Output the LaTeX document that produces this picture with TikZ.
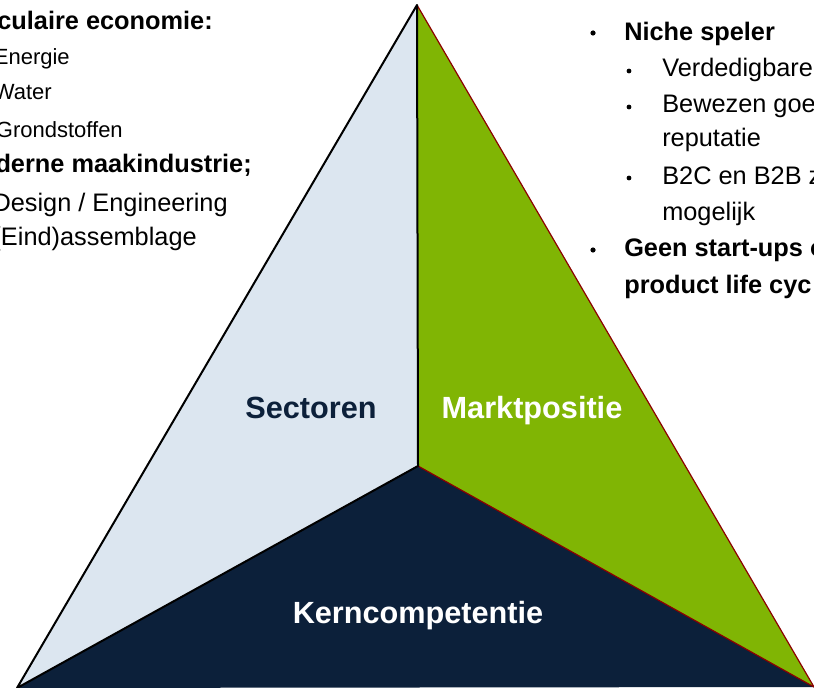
\documentclass[tikz,border=0pt]{standalone}
\usepackage{fontspec}
\setmainfont{Liberation Sans}
\begin{document}
\begin{tikzpicture}[x=0.75pt,y=-0.75pt]
    % Define colors
    \definecolor{sectorcolor}{RGB}{220,230,240} % light blue grey
    \definecolor{marktcolor}{RGB}{128,181,4}    % green
    \definecolor{kerncolor}{RGB}{12,32,58}      % dark navy
    \definecolor{edgered}{RGB}{140,0,0}         % dark red

    % Define styles
    \tikzset{
        bodytext/.style={inner sep=0pt, font=\fontsize{19}{23}\selectfont},
        smalltext/.style={inner sep=0pt, font=\fontsize{16.5}{20}\selectfont},
        bodybold/.style={inner sep=0pt, font=\fontsize{19}{23}\selectfont\bfseries},
        facetext/.style={inner sep=0pt, anchor=base, font=\fontsize{23}{27}\selectfont\bfseries}
    }

    \useasboundingbox (0,0) rectangle (814,688);

    % Corners of the triangle
    \coordinate (top) at (417,5);
    \coordinate (mid) at (418,466);
    \coordinate (bl) at (17,688);
    \coordinate (br) at (814,687);

    % Draw faces
    \fill[sectorcolor] (top) -- (bl) -- (mid) -- cycle;
    \fill[marktcolor] (top) -- (mid) -- (br) -- cycle;
    \fill[kerncolor] (bl) -- (mid) -- (br) -- cycle;

    % Draw edges
    \draw[edgered, line width=0.9pt] (top) -- (br) -- (mid);
    \draw[line width=1.5pt, line join=round] (bl) -- (top) -- (mid) -- cycle;

    % Face labels
    \node[facetext, text=kerncolor] (sectoren) at (311,418) {Sectoren};
    \node[facetext, text=white] (markt) at (532,418) {Marktpositie};
    \node[facetext, text=white] (kern) at (418,623) {Kerncompetentie};

    % Left list (cut off at the page edge)
    \node[bodybold, anchor=base east] (circ) at (213,30) {Circulaire economie:};
    \node[smalltext, anchor=base east] (energie) at (70,65) {Energie};
    \node[smalltext, anchor=base east] (water) at (52,100) {Water};
    \node[smalltext, anchor=base east] (grond) at (123,138) {Grondstoffen};
    \node[bodybold, anchor=base east] (maak) at (252,173) {Moderne maakindustrie;};
    \node[bodytext, anchor=base east] (design) at (228,212) {Design / Engineering};
    \node[bodytext, anchor=base east] (assembl) at (197,245) {(Eind)assemblage};

    % Right list
    \fill (593,33) circle (2.6);
    \node[bodybold, anchor=base west] (niche) at (624,41) {Niche speler};
    \fill (629,71) circle (2.4);
    \node[bodytext, anchor=base west] (verd) at (662,77) {Verdedigbare};
    \fill (629,107) circle (2.4);
    \node[bodytext, anchor=base west] (bewezen) at (662,113) {Bewezen goe};
    \node[bodytext, anchor=base west] (reput) at (662,147) {reputatie};
    \fill (629,178) circle (2.4);
    \node[bodytext, anchor=base west] (btoc) at (662,185) {B2C en B2B z};
    \node[bodytext, anchor=base west] (mogelijk) at (662,220) {mogelijk};
    \fill (593,250) circle (2.6);
    \node[bodybold, anchor=base west] (startups) at (624,257) {Geen start-ups o};
    \node[bodybold, anchor=base west] (cycle) at (624,293) {product life cyc};
\end{tikzpicture}
\end{document}
